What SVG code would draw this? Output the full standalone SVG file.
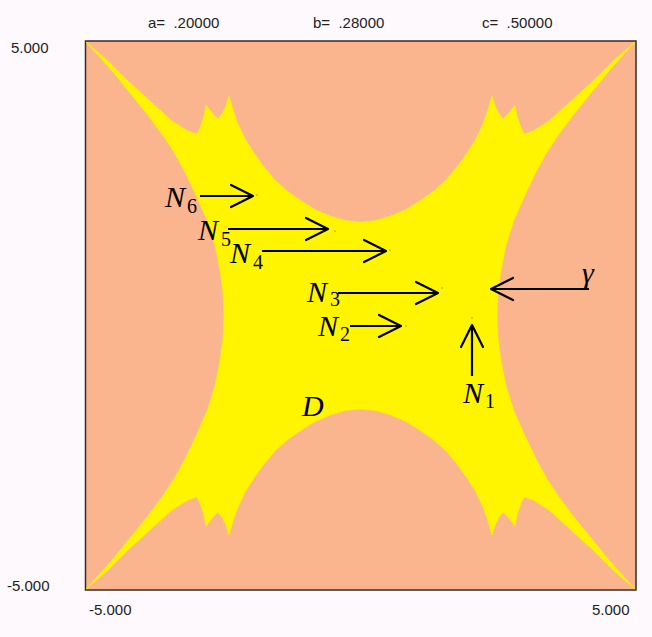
<svg xmlns="http://www.w3.org/2000/svg" width="652" height="637" viewBox="0 0 652 637">
<style>
.ax{font-family:"Liberation Sans",Arial,sans-serif;font-size:15px;fill:#222}
.lb{font-family:"Liberation Serif","Times New Roman",serif;font-style:italic;font-size:30px;fill:#000}
.sb{font-style:normal;font-size:20px}
.ar{stroke:#000;stroke-width:2.2;fill:none}
.pt{fill:#c9c200}
</style>
<defs>
<marker id="head" viewBox="0 0 26 26" refX="24" refY="13" markerWidth="26" markerHeight="26" markerUnits="userSpaceOnUse" orient="auto">
<path d="M2,2 L24,13 L2,24" fill="none" stroke="#000" stroke-width="2.2" stroke-linejoin="round" stroke-linecap="round"/>
</marker>
</defs>
<rect x="0" y="0" width="652" height="637" fill="#fdf9fd"/>
<g id="plot">
<rect x="85.5" y="41" width="550.5" height="549" fill="#fab58e" stroke="#3a2a2a" stroke-width="1.5"/>
<path id="region" fill="#fff500" stroke="#fff500" stroke-width="0.6" stroke-linejoin="round" d="M360.5,222 L345,220.5 L330,216 L314,209 L300,200 L287,191 L275,180 L264,167 L254,153 L245,139 L238,124 L233,110 L229,96 L226,106 L222,114 L218,119 L213,114 L206,105 L204,116 L200,128 L197,134 L188,131 L172,121 L150,101 L128,81 L108,61 L86,42 L97,54 L113,72 L130,93 L147,114 L162,134 L174,152 L184,170 L196,195 L207,220 L215,245 L220,270 L223,293 L224,315.5 L223,338 L220,361 L215,386 L207,411 L196,436 L184,461 L174,479 L162,497 L147,517 L130,538 L113,559 L97,577 L86,589 L108,570 L128,550 L150,530 L172,510 L188,500 L197,497 L200,503 L204,515 L206,526 L213,517 L218,512 L222,517 L226,525 L229,535 L233,521 L238,507 L245,492 L254,478 L264,464 L275,451 L287,440 L300,431 L314,422 L330,415 L345,410.5 L360.5,409 L376,410.5 L391,415 L407,422 L421,431 L434,440 L446,451 L457,464 L467,478 L476,492 L483,507 L488,521 L492,535 L495,525 L499,517 L503,512 L508,517 L515,526 L517,515 L521,503 L524,497 L533,500 L549,510 L571,530 L593,550 L613,570 L635,589 L624,577 L608,559 L591,538 L574,517 L559,497 L547,479 L537,461 L525,436 L514,411 L506,386 L501,361 L498,338 L497,315.5 L498,293 L501,270 L506,245 L514,220 L525,195 L537,170 L547,152 L559,134 L574,114 L591,93 L608,72 L624,54 L635,42 L613,61 L593,81 L571,101 L549,121 L533,131 L524,134 L521,128 L517,116 L515,105 L508,114 L503,119 L499,114 L495,106 L492,96 L488,110 L483,124 L476,139 L467,153 L457,167 L446,180 L434,191 L421,200 L407,209 L391,216 L376,220.5 Z"/>
<g id="points">
<circle class="pt" cx="257" cy="195" r="1"/>
<circle class="pt" cx="335" cy="231" r="1"/>
<circle class="pt" cx="390" cy="250" r="1"/>
<circle class="pt" cx="442" cy="288" r="1"/>
<circle class="pt" cx="406" cy="326" r="1"/>
<circle class="pt" cx="472" cy="318" r="1"/>
</g>
</g>
<g id="axis-labels">
<text class="ax" x="148" y="28" xml:space="preserve">a=  .20000</text>
<text class="ax" x="313" y="28" xml:space="preserve">b=  .28000</text>
<text class="ax" x="482" y="28" xml:space="preserve">c=  .50000</text>
<text class="ax" x="11" y="53">5.000</text>
<text class="ax" x="7" y="591">-5.000</text>
<text class="ax" x="89" y="615">-5.000</text>
<text class="ax" x="592" y="615">5.000</text>
</g>
<g id="connectors">
<line class="ar" x1="200" y1="196" x2="253" y2="196" marker-end="url(#head)"/>
<line class="ar" x1="228" y1="229" x2="328" y2="229" marker-end="url(#head)"/>
<line class="ar" x1="262" y1="251" x2="386" y2="251" marker-end="url(#head)"/>
<line class="ar" x1="338" y1="293" x2="438" y2="293" marker-end="url(#head)"/>
<line class="ar" x1="350" y1="326" x2="401" y2="326" marker-end="url(#head)"/>
<line class="ar" x1="472" y1="376" x2="472" y2="325" marker-end="url(#head)"/>
<line class="ar" x1="589" y1="289" x2="491" y2="289" marker-end="url(#head)"/>
</g>
<g id="N6"><text class="lb" x="165" y="207">N<tspan class="sb" x="187" y="213">6</tspan></text></g>
<g id="N5"><text class="lb" x="198" y="240">N<tspan class="sb" x="221" y="246">5</tspan></text></g>
<g id="N4"><text class="lb" x="230" y="263">N<tspan class="sb" x="253" y="269">4</tspan></text></g>
<g id="N3"><text class="lb" x="307" y="302">N<tspan class="sb" x="330" y="306">3</tspan></text></g>
<g id="N2"><text class="lb" x="318" y="336">N<tspan class="sb" x="340" y="341">2</tspan></text></g>
<g id="N1"><text class="lb" x="463" y="403">N<tspan class="sb" x="485" y="408">1</tspan></text></g>
<g id="D"><text class="lb" x="302" y="416">D</text></g>
<g id="gamma"><text class="lb" x="582" y="283">γ</text></g>
</svg>
